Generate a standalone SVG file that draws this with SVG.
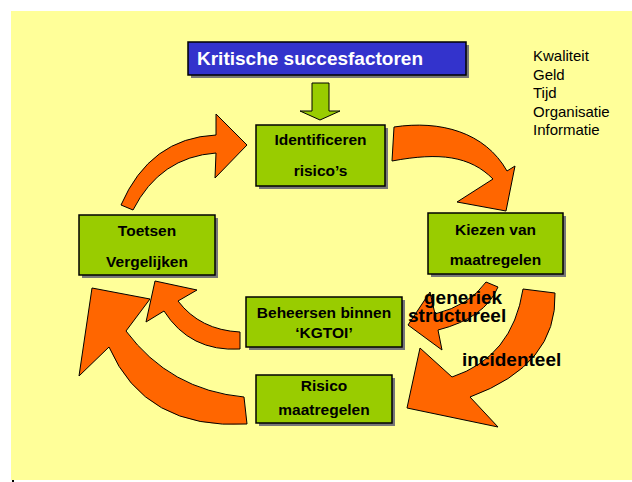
<svg xmlns="http://www.w3.org/2000/svg" width="632" height="482" viewBox="0 0 632 482">
  <style>
    .box { fill: #99CC00; stroke: #000; stroke-width: 1.5; }
    .shadow { fill: #777777; }
    .lbl { font-family: "Liberation Sans", Arial, sans-serif; font-weight: bold; font-size: 15.5px; fill: #000; text-anchor: middle; }
    .list { font-family: "Liberation Sans", Arial, sans-serif; font-size: 15px; fill: #000; }
    .tag { font-family: "Liberation Sans", Arial, sans-serif; font-weight: bold; font-size: 19px; fill: #000; }
    .arrow { fill: #FF6600; stroke: #000; stroke-width: 1; stroke-linejoin: miter; }
  </style>

  <!-- slide background -->
  <rect x="11" y="11" width="621" height="469" fill="#FFFF99"/>
  <rect x="12" y="480" width="2" height="2" fill="#000"/>

  <!-- title -->
  <g id="title">
    <rect class="shadow" x="191" y="45" width="278" height="33"/>
    <rect x="188" y="42" width="278" height="33" fill="#3333CC" stroke="#000" stroke-width="1.5"/>
    <text x="197" y="65" font-family="Liberation Sans, Arial, sans-serif" font-weight="bold" font-size="19" fill="#FFFFFF">Kritische succesfactoren</text>
  </g>

  <!-- factor list -->
  <g id="factors" class="list">
    <text x="533" y="61">Kwaliteit</text>
    <text x="533" y="79.5">Geld</text>
    <text x="533" y="98">Tijd</text>
    <text x="533" y="116.5">Organisatie</text>
    <text x="533" y="135">Informatie</text>
  </g>

  <!-- cycle arrows -->
  <g id="connectors">
    <!-- feed from title into the cycle -->
    <path d="M312,83 L329,83 L329,111 L340,111 L320,120 L300,111 L312,111 Z" fill="#99CC00" stroke="#000" stroke-width="1"/>
    <!-- Toetsen -> Identificeren -->
    <path class="arrow" d="M121,205 Q150,138 216,135 L216,114 L247,145 L215,178 L216,153 Q160,157 133,210 Z"/>
    <!-- Identificeren -> Kiezen -->
    <path class="arrow" d="M394,127 C440,120 485,132 507,171 L515,166 L506,211 L457,202 L493,179 C470,156 440,152 392,161 Z"/>
    <!-- Kiezen -> Beheersen (generiek / structureel) -->
    <path class="arrow" d="M486,282 Q470,305 435,314 L430,292 L408,325 L442,350 L438,330 Q485,318 498,287 Z"/>
    <!-- Kiezen -> Risico maatregelen (incidenteel) -->
    <path class="arrow" d="M555,293 Q557.5,365 470,397 L498,427 L407,408 L420,348 L452,377 Q512.5,357 523,289 Z"/>
    <!-- Beheersen -> Toetsen -->
    <path class="arrow" d="M240,332 Q200,330 178,301 L197,290 L155,281 L146,322 L164,311 Q190,352 240,349 Z"/>
    <!-- Risico maatregelen -> Toetsen -->
    <path class="arrow" d="M244,397 Q170,390 126,331 L150,299 L92,288 L79,376 L109,347 Q145,430 247,424 Z"/>
  </g>

  <!-- process steps -->
  <g id="identificeren">
    <rect class="shadow" x="259" y="128" width="129" height="61"/>
    <rect class="box" x="256" y="125" width="129" height="61"/>
    <text class="lbl" x="320.5" y="145">Identificeren</text>
    <text class="lbl" x="320.5" y="176">risico’s</text>
  </g>
  <g id="kiezen">
    <rect class="shadow" x="431" y="216" width="135" height="61"/>
    <rect class="box" x="428" y="213" width="135" height="61"/>
    <text class="lbl" x="495.5" y="235">Kiezen van</text>
    <text class="lbl" x="495.5" y="265">maatregelen</text>
  </g>
  <g id="beheersen">
    <rect class="shadow" x="249" y="300" width="156" height="50"/>
    <rect class="box" x="246" y="297" width="156" height="50"/>
    <text class="lbl" x="324" y="318">Beheersen binnen</text>
    <text class="lbl" x="324" y="338">‘KGTOI’</text>
  </g>
  <g id="risico">
    <rect class="shadow" x="259" y="378" width="136" height="48"/>
    <rect class="box" x="256" y="375" width="136" height="48"/>
    <text class="lbl" x="324" y="391">Risico</text>
    <text class="lbl" x="324" y="415">maatregelen</text>
  </g>
  <g id="toetsen">
    <rect class="shadow" x="82" y="218" width="136" height="60"/>
    <rect class="box" x="79" y="215" width="136" height="60"/>
    <text class="lbl" x="147" y="236">Toetsen</text>
    <text class="lbl" x="147" y="267">Vergelijken</text>
  </g>

  <!-- branch labels -->
  <g id="labels" class="tag">
    <text x="424" y="304">generiek</text>
    <text x="408" y="322">structureel</text>
    <text x="462" y="366">incidenteel</text>
  </g>
</svg>
